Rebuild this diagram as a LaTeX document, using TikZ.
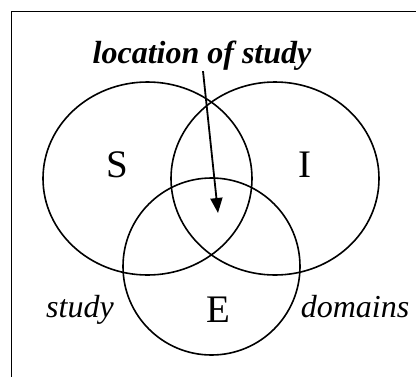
\documentclass[tikz,border=0pt]{standalone}
\usepackage{fontspec}
\setmainfont{Liberation Serif}
\usetikzlibrary{arrows.meta,shapes.geometric}
\tikzset{
  setshape/.style={ellipse, draw, line width=1.6pt,
    minimum width=#1, inner sep=0pt},
  setletter/.style={anchor=base, inner sep=0pt, font=\fontsize{39}{44}\selectfont},
  sidelabel/.style={anchor=base, inner sep=0pt, font=\fontsize{32}{36}\selectfont\itshape},
  pointer/.style={-{Triangle[length=15pt, width=12pt]}, line width=1.8pt},
}
\begin{document}
\begin{tikzpicture}[x=1pt, y=-1pt]
  \useasboundingbox (0,0) rectangle (416,376);
  \clip (0,0) rectangle (416,376);
  \draw[line width=1.8pt] (11.5,11.5) rectangle (440,400);
  % the three domains
  \node[setshape=209pt, minimum height=193pt] (setS) at (147.5,178.5) {};
  \node[setshape=208pt, minimum height=193pt] (setI) at (275,178.5) {};
  \node[setshape=177pt, minimum height=177pt] (setE) at (211.5,266.5) {};
  \node[setletter] (S) at (117,177) {S};
  \node[setletter] (I) at (305,177) {I};
  \node[setletter] (E) at (218,322) {E};
  \node[sidelabel] (study) at (80,317) {study};
  \node[sidelabel] (domains) at (355,317) {domains};
  % title and arrow into the overlap
  \node[anchor=base, inner sep=0pt, font=\fontsize{32}{37}\selectfont\bfseries\itshape] (title) at (202,63) {location of study};
  \coordinate (target) at (218,213);
  \draw[pointer] ([xshift=1pt, yshift=-1pt]title.south) -- (target);
\end{tikzpicture}
\end{document}
